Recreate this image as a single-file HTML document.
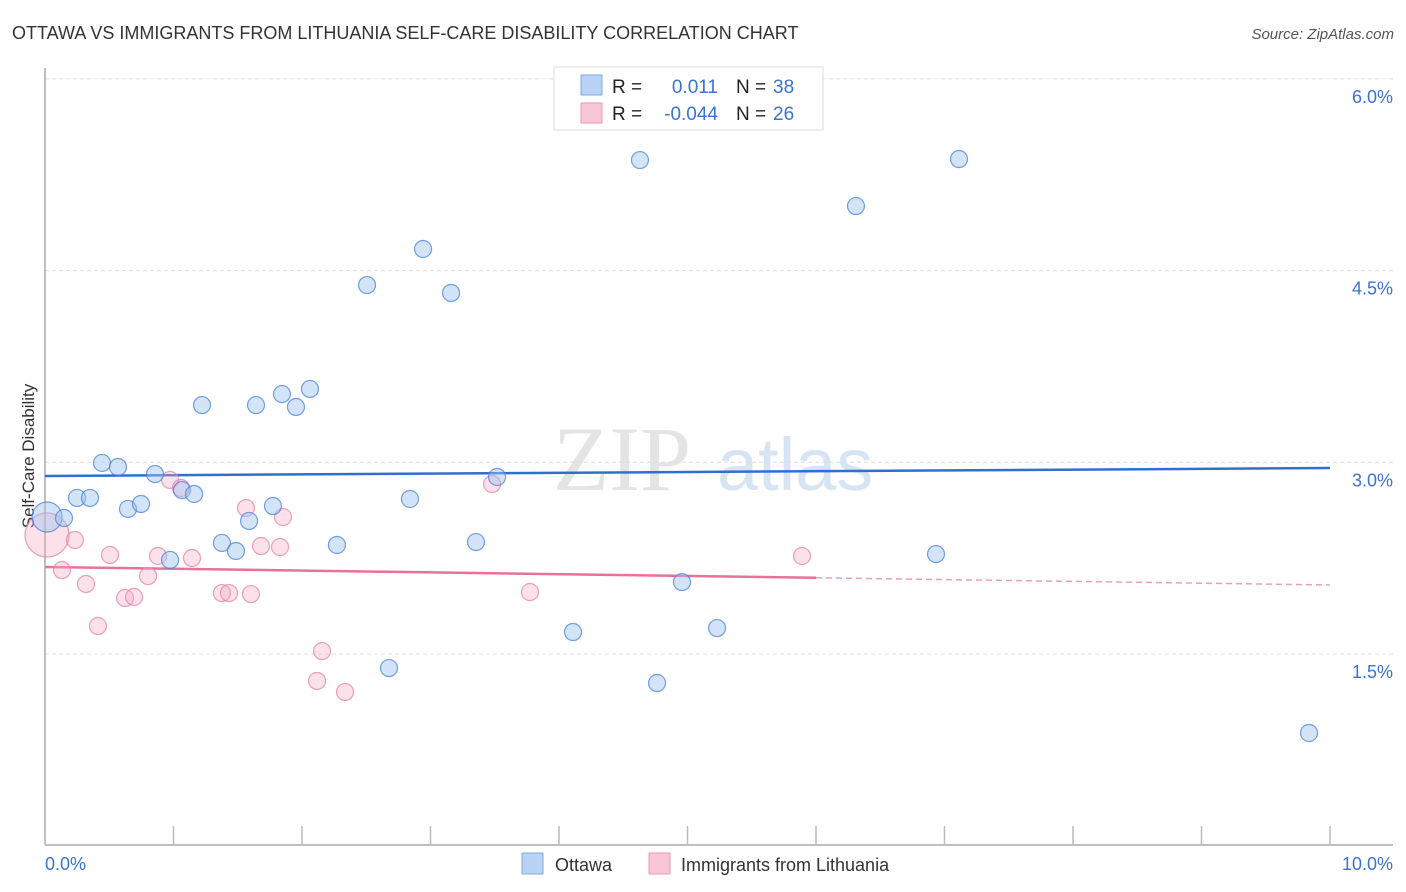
<!DOCTYPE html>
<html><head><meta charset="utf-8"><style>
body{margin:0;background:#fff;font-family:"Liberation Sans",sans-serif;}
svg{display:block}
</style></head><body>
<svg id="chart" width="1406" height="892" xmlns="http://www.w3.org/2000/svg">
<text x="12" y="39" font-size="18" fill="#333">OTTAWA VS IMMIGRANTS FROM LITHUANIA SELF-CARE DISABILITY CORRELATION CHART</text>
<text x="1394" y="39" font-size="15" fill="#555" font-style="italic" text-anchor="end">Source: ZipAtlas.com</text>
<g><text x="553" y="490" font-size="92" fill="#e4e4e4" font-family="Liberation Serif,serif">ZIP</text><text x="717" y="490" font-size="74" fill="#d6e4f4">atlas</text></g>
<g id="grid"></g>
<g id="axes"></g>
<text transform="translate(34,456) rotate(-90)" font-size="17" fill="#333" text-anchor="middle">Self-Care Disability</text>
<g id="trend"></g>
<g id="pts"></g>
<g>
<rect x="554" y="67" width="269" height="63" fill="#fff" stroke="#ddd"/>
<rect x="581" y="75" width="21" height="20" fill="#b9d3f5" stroke="#7fa9e6"/>
<rect x="581" y="103" width="21" height="20" fill="#f9c6d5" stroke="#eb9ab2"/>
<text x="612" y="93" font-size="19" fill="#222">R =</text><text x="718" y="93" font-size="19" fill="#3a73d3" text-anchor="end">0.011</text>
<text x="736" y="93" font-size="19" fill="#222">N =</text><text x="773" y="93" font-size="19" fill="#3a73d3">38</text>
<text x="612" y="120" font-size="19" fill="#222">R =</text><text x="718" y="120" font-size="19" fill="#3a73d3" text-anchor="end">-0.044</text>
<text x="736" y="120" font-size="19" fill="#222">N =</text><text x="773" y="120" font-size="19" fill="#3a73d3">26</text>
</g>
<g>
<rect x="522" y="853" width="21" height="21" fill="#b9d3f5" stroke="#7fa9e6"/>
<text x="555" y="871" font-size="18" fill="#333">Ottawa</text>
<rect x="649" y="853" width="21" height="21" fill="#f9c6d5" stroke="#eb9ab2"/>
<text x="681" y="871" font-size="18" fill="#333">Immigrants from Lithuania</text>
</g>
</svg>
<script>
const blueX=[0.016,0.148,0.249,0.350,0.444,0.568,0.646,0.747,0.856,0.973,1.066,1.160,1.222,1.377,1.486,1.588,1.642,1.774,1.844,1.953,2.062,2.272,2.506,2.677,2.840,2.942,3.160,3.354,3.518,4.109,4.630,4.763,4.957,5.230,6.311,6.934,7.113,9.837];
const blueY=[2.572,2.564,2.721,2.721,2.995,2.963,2.635,2.674,2.908,2.236,2.783,2.752,3.448,2.369,2.306,2.541,3.448,2.658,3.534,3.433,3.574,2.353,4.387,1.390,2.713,4.669,4.325,2.376,2.885,1.672,5.365,1.273,2.063,1.703,5.005,2.282,5.373,0.882];
const pinkX=[0.016,0.132,0.233,0.319,0.412,0.506,0.623,0.693,0.802,0.879,0.973,1.058,1.144,1.377,1.432,1.564,1.603,1.681,1.829,1.852,2.117,2.156,2.335,3.479,3.774,5.891];
const pinkY=[2.431,2.157,2.392,2.048,1.719,2.275,1.938,1.946,2.110,2.267,2.862,2.799,2.251,1.977,1.977,2.642,1.969,2.345,2.337,2.572,1.289,1.523,1.203,2.830,1.985,2.267];
const blueTrend=[2.893,2.955];
const pinkTrend=[2.181,2.040];
const pinkSolidEnd=6.0;
const yTicks=[1.5,3.0,4.5,6.0];
const yTickLabels=["1.5%","3.0%","4.5%","6.0%"];
const xTicks=[0,1,2,3,4,5,6,7,8,9,10];
const xLabels=[[0,"0.0%"],[10,"10.0%"]];
const NS="http://www.w3.org/2000/svg";
const sx=v=>45+v*128.5, sy=v=>654-(v-1.5)*127.8;
function mk(tag,attrs,parent){const e=document.createElementNS(NS,tag);for(const k in attrs)e.setAttribute(k,attrs[k]);parent.appendChild(e);return e;}
const grid=document.getElementById('grid'),axes=document.getElementById('axes');
yTicks.forEach((t,i)=>{
 const l=mk('line',{x1:45,x2:1393,y1:sy(t),y2:sy(t),stroke:'#ddd','stroke-dasharray':'4,3'},grid);
 
 
 const tx=mk('text',{x:1393,y:sy(t)+24,'font-size':18,fill:'#3a73d3','text-anchor':'end'},grid);
 tx.textContent=yTickLabels[i];
 
 
});
mk('line',{x1:45,x2:45,y1:68,y2:845,stroke:'#aaa','stroke-width':1.5},axes);
mk('line',{x1:45,x2:1393,y1:845,y2:845,stroke:'#aaa','stroke-width':1.5},axes);
xTicks.forEach(t=>{const l=mk('line',{x1:sx(t),x2:sx(t),y1:826,y2:845,stroke:'#bbb','stroke-width':1.5},axes);
 
 });
xLabels.forEach(([v,s])=>{const tx=mk('text',{x:v===0?sx(v):1393,y:870,'font-size':18,fill:'#3a73d3','text-anchor':v===0?'start':'end'},axes);tx.textContent=s;
 
 });
const tr=document.getElementById('trend');
const bl=mk('line',{x1:sx(0),x2:sx(10),y1:sy(blueTrend[0]),y2:sy(blueTrend[1]),stroke:'#2f6fd1','stroke-width':2.5},tr);


const pAt=v=>pinkTrend[0]+(pinkTrend[1]-pinkTrend[0])*v/10;
const pl=mk('line',{x1:sx(0),x2:sx(pinkSolidEnd),y1:sy(pAt(0)),y2:sy(pAt(pinkSolidEnd)),stroke:'#e8729a','stroke-width':2.5},tr);


const pd=mk('line',{x1:sx(pinkSolidEnd),x2:sx(10),y1:sy(pAt(pinkSolidEnd)),y2:sy(pAt(10)),stroke:'#e8a0b8','stroke-width':1.5,'stroke-dasharray':'6,4'},tr);


const pts=document.getElementById('pts');
pinkX.forEach((x,i)=>{const c=mk('circle',{cx:sx(x),cy:sy(pinkY[i]),r:i===0?22:8.5,fill:'rgba(246,170,195,0.35)',stroke:'rgba(230,130,165,0.75)','stroke-width':1.2},pts);
 
 });
blueX.forEach((x,i)=>{const c=mk('circle',{cx:sx(x),cy:sy(blueY[i]),r:i===0?15:8.5,fill:'rgba(160,195,240,0.45)',stroke:'rgba(70,130,215,0.75)','stroke-width':1.2},pts);
 
 });
</script>
</body></html>
